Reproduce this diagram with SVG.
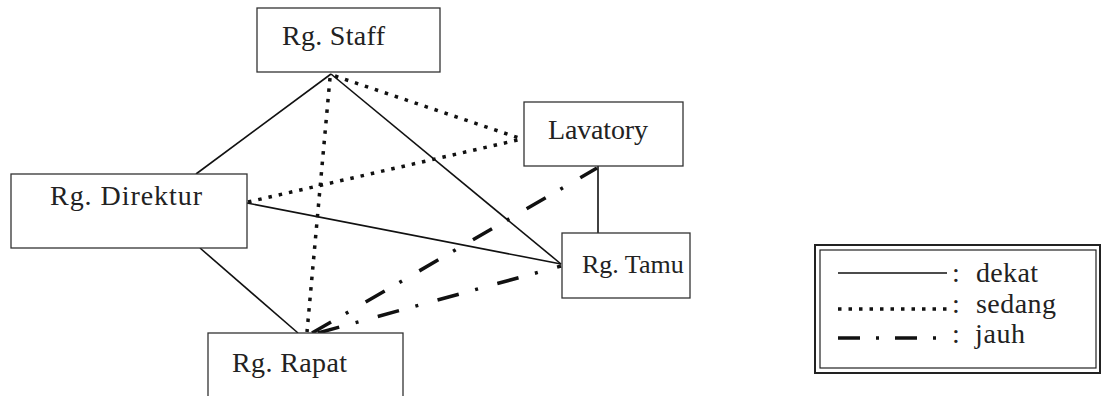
<svg xmlns="http://www.w3.org/2000/svg" width="1102" height="396" viewBox="0 0 1102 396">
<style>
.box{fill:#fff;stroke:#333;stroke-width:1.3}
.lbl{font-family:"Liberation Serif","Times New Roman",serif;font-size:28px;fill:#222}
.solid{fill:none;stroke:#111;stroke-width:1.6}
.dot{fill:none;stroke:#111;stroke-width:3.5;stroke-dasharray:3.5 7}
.dashdot{fill:none;stroke:#111;stroke-width:3.5;stroke-dasharray:22 17 3 20}
</style>
<rect width="1102" height="396" fill="#fff"/>
<g id="connectors">
<line class="solid" x1="331" y1="74" x2="196" y2="174"/>
<line class="solid" x1="331" y1="74" x2="561" y2="264"/>
<line class="solid" x1="247" y1="203" x2="561" y2="264"/>
<line class="solid" x1="200" y1="248" x2="298" y2="333"/>
<line class="solid" x1="598" y1="166" x2="598" y2="233"/>
<line class="dot" x1="335" y1="76" x2="522" y2="139"/>
<line class="dot" x1="248" y1="202" x2="522" y2="139"/>
<line class="dot" x1="330" y1="78" x2="307" y2="332"/>
<line class="dashdot" x1="312" y1="333" x2="597" y2="168"/>
<line class="dashdot" x1="318" y1="333" x2="561" y2="266"/>
</g>
<g id="staff">
<rect class="box" x="257" y="8" width="183" height="64"/>
<text class="lbl" x="282" y="45" textLength="103">Rg. Staff</text>
</g>
<g id="lavatory">
<rect class="box" x="524" y="102" width="159" height="64"/>
<text class="lbl" x="548" y="139" textLength="100">Lavatory</text>
</g>
<g id="direktur">
<rect class="box" x="11" y="174" width="236" height="74"/>
<text class="lbl" x="50" y="205" textLength="152">Rg. Direktur</text>
</g>
<g id="tamu">
<rect class="box" x="562" y="233" width="128" height="65"/>
<text class="lbl" x="582" y="273" style="font-size:26px">Rg. Tamu</text>
</g>
<g id="rapat">
<rect class="box" x="208" y="333" width="195" height="70"/>
<text class="lbl" x="232" y="372" textLength="115">Rg. Rapat</text>
</g>
<g id="legend">
<rect x="815" y="245" width="285" height="128" fill="#fff" stroke="#222" stroke-width="2"/>
<rect x="820" y="250" width="276" height="118" fill="none" stroke="#222" stroke-width="1.2"/>
<line class="solid" x1="838" y1="273" x2="947" y2="273"/>
<line class="dot" x1="838" y1="309" x2="947" y2="309"/>
<line class="dashdot" x1="838" y1="338" x2="947" y2="338" style="stroke-dasharray:22 16 3 16"/>
<text class="lbl" y="282"><tspan x="952">:</tspan><tspan x="976" textLength="62">dekat</tspan></text>
<text class="lbl" y="313"><tspan x="952">:</tspan><tspan x="976" textLength="80">sedang</tspan></text>
<text class="lbl" y="343"><tspan x="952">:</tspan><tspan x="975" textLength="50">jauh</tspan></text>
</g>
</svg>
